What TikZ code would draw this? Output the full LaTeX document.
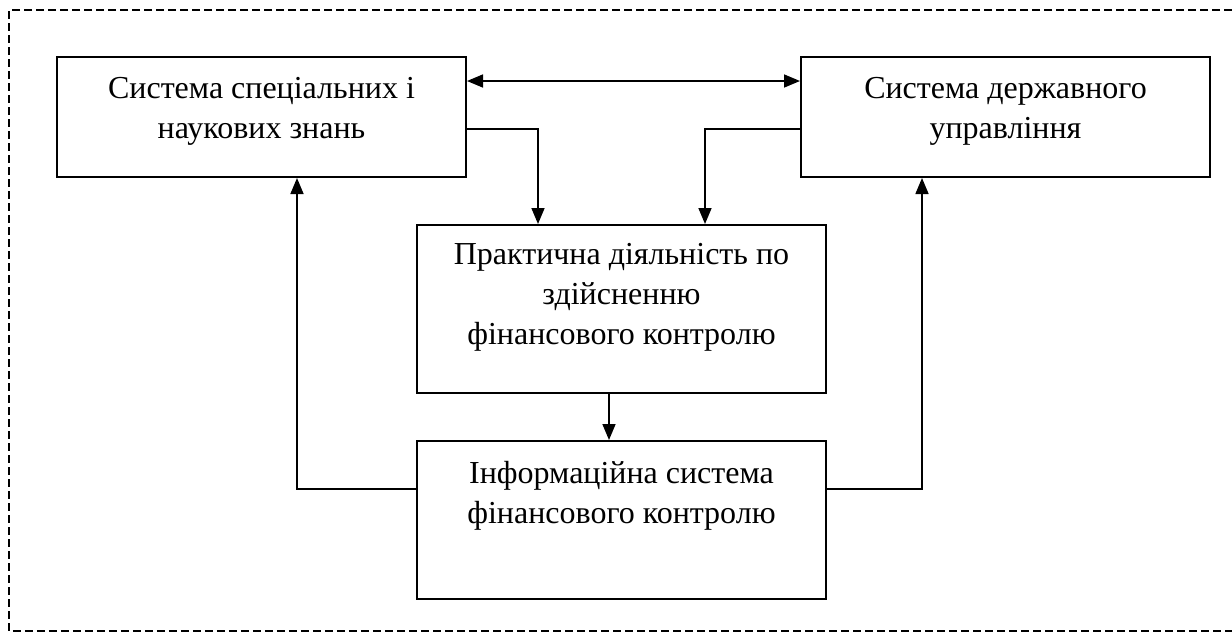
\documentclass[tikz,border=0pt]{standalone}
\usepackage{fontspec}
\setmainfont{Liberation Serif}
\usepackage{tikz}
\usetikzlibrary{arrows.meta,positioning}

\begin{document}
\begin{tikzpicture}[x=0.5pt,y=-0.5pt,
    block/.style={draw, line width=1pt, minimum width=204.5pt},
    boxtext/.style={align=center, inner sep=0pt, font=\fontsize{16}{20}\selectfont},
    link/.style={-{Triangle[length=8pt,width=6.5pt]}, line width=0.8pt},
    duallink/.style={link, {Triangle[length=8pt,width=6.5pt]}-{Triangle[length=8pt,width=6.5pt]}}]
  \useasboundingbox (0,0) rectangle (1232,633);
  \draw[dash pattern=on 4pt off 2pt, line width=0.8pt] (1232,10) -- (9,10) -- (9,631) -- (1232,631);

  \node[block, minimum height=60pt] (know) at (261.5,117) {};
  \node[block, minimum height=60pt] (state) at (1005.5,117) {};
  \node[block, minimum height=84pt] (practice) at (621.5,309) {};
  \node[block, minimum height=79pt] (info) at (621.5,520) {};

  \node[boxtext, below=10.5pt of know.north] (knowtxt) {Система спеціальних і\\наукових знань};
  \node[boxtext, below=10.5pt of state.north] (statetxt) {Система державного\\управління};
  \node[boxtext, below=9.5pt of practice.north] (practicetxt) {Практична діяльність по\\здійсненню\\фінансового контролю};
  \node[boxtext, below=10.5pt of info.north] (infotxt) {Інформаційна система\\фінансового контролю};

  \draw[duallink] ([yshift=18pt]know.east) -- ([yshift=18pt]state.west);
  \draw[link] ([yshift=-6pt]know.east) -| ([xshift=-41.75pt]practice.north);
  \draw[link] ([yshift=-6pt]state.west) -| ([xshift=41.75pt]practice.north);
  \draw[link] ([xshift=-6.25pt]practice.south) -- ([xshift=-6.25pt]info.north);
  \draw[link] ([yshift=15.5pt]info.west) -| ([xshift=17.75pt]know.south);
  \draw[link] ([yshift=15.5pt]info.east) -| ([xshift=-41.75pt]state.south);
\end{tikzpicture}
\end{document}
